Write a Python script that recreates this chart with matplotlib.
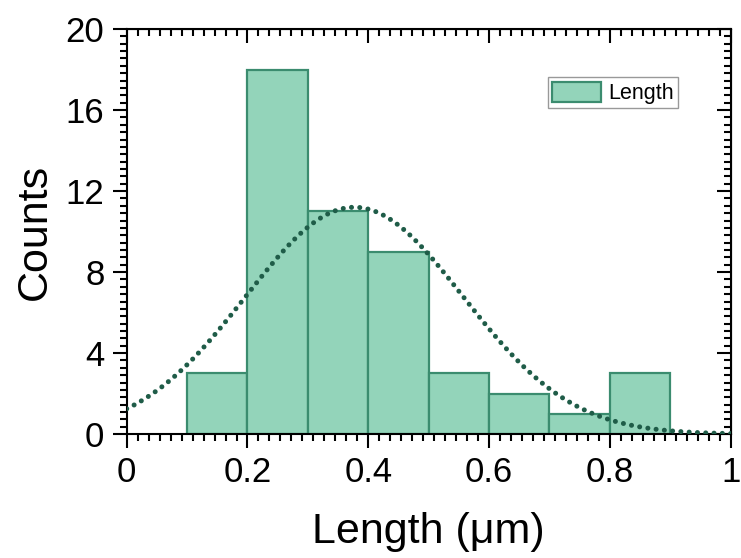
import numpy as np
import matplotlib
matplotlib.use("Agg")
import matplotlib.pyplot as plt
from matplotlib.ticker import MultipleLocator, AutoMinorLocator

plt.rcParams['font.family'] = ['Liberation Sans', 'DejaVu Sans']

# histogram bins (left edges) and counts
bin_left = [0.1, 0.2, 0.3, 0.4, 0.5, 0.6, 0.7, 0.8]
bin_width = 0.1
counts = [3, 18, 11, 9, 3, 2, 1, 3]

# normal fit parameters
fit_mean = 0.377
fit_sigma = 0.18
fit_peak = 11.2

fig = plt.figure(figsize=(7.41, 5.58), dpi=100)
ax = fig.add_axes([0.171, 0.222, 0.815, 0.726])

ax.bar(bin_left, counts, width=bin_width, align='edge', color='#93d4ba',
       edgecolor='#3b8c6f', linewidth=1.6, label='Length', zorder=2)

xs = np.linspace(0, 1, 400)
ys = fit_peak * np.exp(-(xs - fit_mean) ** 2 / (2 * fit_sigma ** 2))
ax.plot(xs, ys, color='#1f5c48', linewidth=3.6, linestyle=(0, (0.01, 1.65)),
        dash_capstyle='round', zorder=3)

ax.set_xlim(0, 1)
ax.set_ylim(0, 20)
ax.set_xticks([0, 0.2, 0.4, 0.6, 0.8, 1])
ax.set_xticklabels(['0', '0.2', '0.4', '0.6', '0.8', '1'])
ax.yaxis.set_major_locator(MultipleLocator(4))
ax.xaxis.set_minor_locator(AutoMinorLocator(11))
ax.yaxis.set_minor_locator(AutoMinorLocator(11))

for s in ax.spines.values():
    s.set_linewidth(1.5)

ax.tick_params(which='both', direction='out', width=1.5, labelsize=25,
               top=False, right=False)
ax.tick_params(which='major', length=10, pad=6)
ax.tick_params(which='minor', length=5)

# mirrored inward ticks on top and right
axt = ax.secondary_xaxis('top')
axt.set_xticks([0, 0.2, 0.4, 0.6, 0.8, 1])
axt.xaxis.set_minor_locator(AutoMinorLocator(11))
axt.tick_params(which='both', direction='in', width=1.5, labeltop=False)
axt.tick_params(which='major', length=10)
axt.tick_params(which='minor', length=5)
axr = ax.secondary_yaxis('right')
axr.yaxis.set_major_locator(MultipleLocator(4))
axr.yaxis.set_minor_locator(AutoMinorLocator(11))
axr.tick_params(which='both', direction='in', width=1.5, labelright=False)
axr.tick_params(which='major', length=10)
axr.tick_params(which='minor', length=5)

ax.set_xlabel('Length (\u03bcm)', fontsize=31, labelpad=16)
ax.set_ylabel('Counts', fontsize=31, labelpad=8)

leg = ax.legend(loc='upper left', bbox_to_anchor=(0.697, 0.881),
                fontsize=15.5, frameon=True, fancybox=False,
                edgecolor='#808080', handlelength=2.3, handleheight=1.1,
                borderpad=0.2, borderaxespad=0, handletextpad=0.3)
leg.get_frame().set_linewidth(1.0)

fig.savefig('out.png', dpi=100)
